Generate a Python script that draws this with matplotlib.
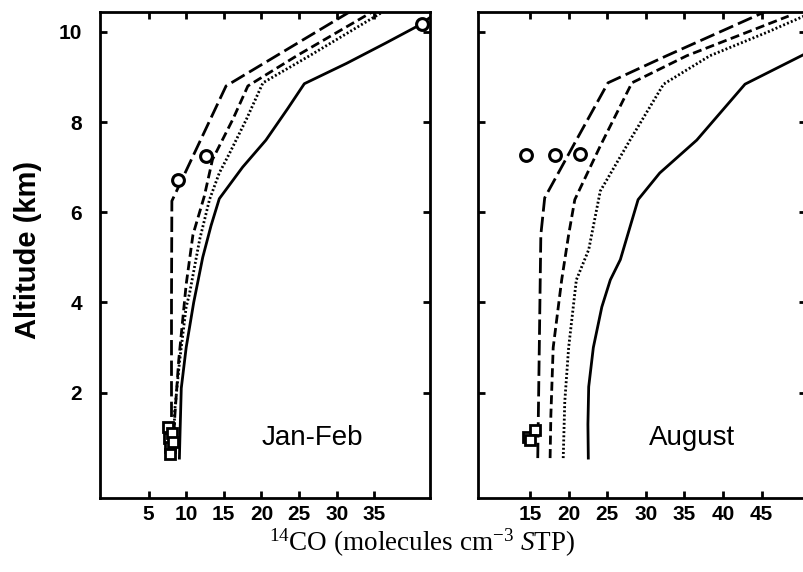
import matplotlib
matplotlib.use('Agg')
import matplotlib.pyplot as plt

plt.rcParams['font.family'] = ['Liberation Sans', 'DejaVu Sans']
plt.rcParams['mathtext.fontset'] = 'custom'
plt.rcParams['mathtext.rm'] = 'Liberation Serif'
plt.rcParams['mathtext.it'] = 'Liberation Serif:italic'
plt.rcParams['lines.scale_dashes'] = False

# ------------------- Jan-Feb -------------------
jf_solid_x = [9.1, 9.2, 9.35, 10.0, 11.0, 12.2, 13.3, 14.4, 17.5, 20.6, 23.5, 25.7, 31.3, 36.5, 41.0, 43.5]
jf_solid_y = [0.55, 1.2, 2.1, 3.0, 4.0, 5.0, 5.7, 6.3, 7.0, 7.6, 8.3, 8.85, 9.3, 9.75, 10.15, 10.45]
jf_dot_x = [8.4, 8.45, 9.1, 10.0, 10.45, 11.8, 13.1, 14.4, 15.8, 18.0, 20.2, 26.4, 36.2]
jf_dot_y = [0.55, 1.55, 2.66, 3.9, 4.2, 5.4, 6.28, 6.87, 7.32, 8.06, 8.87, 9.47, 10.45]
jf_med_x = [8.2, 8.5, 9.0, 10.0, 10.9, 12.4, 13.5, 16.2, 18.2, 24.7, 34.8]
jf_med_y = [0.55, 1.5, 2.7, 4.4, 5.5, 6.35, 7.17, 8.06, 8.8, 9.47, 10.45]
jf_long_x = [8.05, 8.05, 8.1, 15.3, 31.8]
jf_long_y = [0.55, 4.0, 6.25, 8.8, 10.45]
jf_circ_x = [8.9, 12.7, 41.3]
jf_circ_y = [6.72, 7.24, 10.17]
jf_sq_x = [7.6, 7.7, 7.9, 8.1, 7.8, 8.2]
jf_sq_y = [1.25, 1.0, 0.8, 1.1, 0.65, 0.9]

# ------------------- August -------------------
au_solid_x = [22.55, 22.5, 22.6, 23.2, 24.3, 25.4, 26.7, 29.0, 31.8, 36.6, 42.85, 50.5]
au_solid_y = [0.55, 1.3, 2.13, 3.0, 3.9, 4.5, 4.95, 6.28, 6.87, 7.6, 8.84, 9.5]
au_dot_x = [19.3, 19.5, 20.0, 21.0, 22.6, 24.1, 27.95, 32.3, 38.3, 45.7, 50.5]
au_dot_y = [0.55, 1.8, 3.0, 4.5, 5.17, 6.47, 7.6, 8.84, 9.47, 9.99, 10.35]
au_med_x = [17.6, 17.7, 18.0, 19.1, 20.0, 20.8, 24.1, 28.2, 35.3, 48.5]
au_med_y = [0.55, 1.5, 3.0, 4.5, 5.5, 6.28, 7.47, 8.87, 9.47, 10.35]
au_long_x = [16.0, 16.2, 16.4, 16.9, 21.0, 25.1, 32.7, 45.5]
au_long_y = [0.55, 3.0, 5.5, 6.32, 7.6, 8.87, 9.47, 10.45]
au_circ_x = [14.5, 18.2, 21.5]
au_circ_y = [7.26, 7.26, 7.3]
au_sq_x = [14.8, 15.6, 15.0]
au_sq_y = [1.02, 1.17, 0.95]

jf_ticks = [5, 10, 15, 20, 25, 30, 35]
au_ticks = [15, 20, 25, 30, 35, 40, 45]
alt_ticks = [2, 4, 6, 8, 10]

LW = 2.0
STYLES = {
    'solid': dict(color='black', lw=LW, linestyle='-'),
    'dot': dict(color='black', lw=LW, dashes=(1.4, 1.6)),
    'med': dict(color='black', lw=LW, dashes=(6.5, 3.2)),
    'long': dict(color='black', lw=LW, dashes=(11, 3.8)),
}

fig = plt.figure(figsize=(8.04, 5.72), dpi=100)
W, H = 804, 572
ax1 = fig.add_axes([100 / W, 74 / H, 330 / W, 486 / H])
ax2 = fig.add_axes([478 / W, 74 / H, 328 / W, 486 / H])


def draw_panel(ax, curves, circ, sq, xlim, xticks, label, label_x, show_y):
    for (x, y), key in zip(curves, ['solid', 'dot', 'med', 'long']):
        ax.plot(x, y, **STYLES[key])
    ax.plot(circ[0], circ[1], 'o', mfc='white', mec='black', ms=8.5, mew=2.2, clip_on=False)
    ax.plot(sq[0], sq[1], 's', mfc='white', mec='black', ms=6.5, mew=2)
    ax.set_xlim(*xlim)
    ax.set_ylim(-0.335, 10.44)
    ax.set_xticks(xticks)
    ax.set_yticks(alt_ticks)
    ax.tick_params(direction='in', length=5, width=2, top=True, right=True,
                   labelsize=15, pad=5)
    ax.tick_params(axis='y', pad=13, labelleft=show_y)
    for t in ax.get_xticklabels() + ax.get_yticklabels():
        t.set_fontweight('bold')
    for s in ax.spines.values():
        s.set_linewidth(2)
    ax.text(label_x, 0.99, label, fontsize=20, ha='center', va='center')


draw_panel(ax1, [(jf_solid_x, jf_solid_y), (jf_dot_x, jf_dot_y), (jf_med_x, jf_med_y), (jf_long_x, jf_long_y)],
           (jf_circ_x, jf_circ_y), (jf_sq_x, jf_sq_y), (-1.45, 42.4), jf_ticks, 'Jan-Feb', 26.8, True)
draw_panel(ax2, [(au_solid_x, au_solid_y), (au_dot_x, au_dot_y), (au_med_x, au_med_y), (au_long_x, au_long_y)],
           (au_circ_x, au_circ_y), (au_sq_x, au_sq_y), (8.26, 50.75), au_ticks, 'August', 36.0, False)

ax1.set_ylabel('Altitude (km)', fontsize=21, fontweight='bold')
ax1.yaxis.set_label_coords(-58 / 330, 0.51)

fig.text(422 / W, 1 - 543 / H, r'$^{14}$CO (molecules cm$^{-3}$ $\mathit{S}$TP)',
         fontsize=19.5, ha='center', va='center', family=['Liberation Serif', 'DejaVu Serif'])

fig.savefig('out.png', dpi=100)
